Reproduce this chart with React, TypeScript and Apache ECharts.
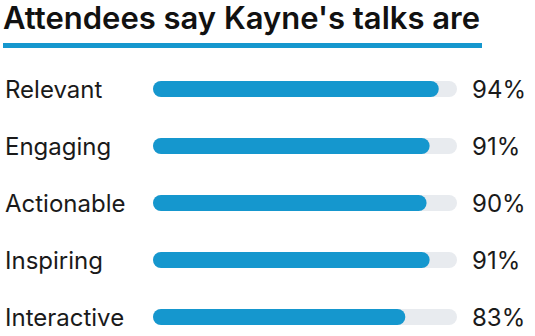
import React, { useEffect, useRef } from "react";
import * as echarts from "echarts";

const categories = ["Relevant", "Engaging", "Actionable", "Inspiring", "Interactive"];
const values = [94, 91, 90, 91, 83];
const trackValues = [100, 100, 100, 100, 100];
const titleText = "Attendees say Kayne's talks are";

const BLUE = "#1597CE";
const TRACK = "#E8EBEF";
const FONT = "Inter, 'Noto Sans', sans-serif";

export default function App() {
  const ref = useRef<HTMLDivElement>(null);
  useEffect(() => {
    document.body.style.margin = "0";
    const chart = echarts.init(ref.current!, null, { renderer: "svg" });
    chart.setOption({
      animation: false,
      grid: { left: 153, width: 304, top: 60.5, height: 285, outerBoundsMode: "none", containLabel: false },
      graphic: [
        {
          type: "text",
          left: 3,
          top: 2,
          style: { text: titleText, fontSize: 31, fontWeight: 600, fontFamily: FONT, fill: "#111" },
        },
        { type: "rect", shape: { x: 3, y: 43, width: 479, height: 5 }, style: { fill: BLUE } },
      ],
      xAxis: { type: "value", min: 0, max: 100, show: false },
      yAxis: {
        type: "category",
        data: categories,
        inverse: true,
        axisLine: { show: false },
        axisTick: { show: false },
        axisLabel: {
          align: "left",
          margin: 148,
          fontSize: 24,
          fontFamily: FONT,
          color: "#1a1a1a",
        },
      },
      series: [
        {
          type: "bar",
          data: trackValues,
          barWidth: 16,
          barGap: "-100%",
          itemStyle: { color: TRACK, borderRadius: 8 },
          silent: true,
          label: {
            show: true,
            position: "right",
            distance: 15,
            fontSize: 24,
            fontFamily: FONT,
            color: "#1a1a1a",
            formatter: (p: any) => values[p.dataIndex] + "%",
          },
          z: 1,
        },
        {
          type: "bar",
          data: values,
          barWidth: 16,
          itemStyle: { color: BLUE, borderRadius: 8 },
          z: 2,
        },
      ],
    });
    return () => chart.dispose();
  }, []);
  return <div ref={ref} style={{ width: 535, height: 336 }} />;
}
